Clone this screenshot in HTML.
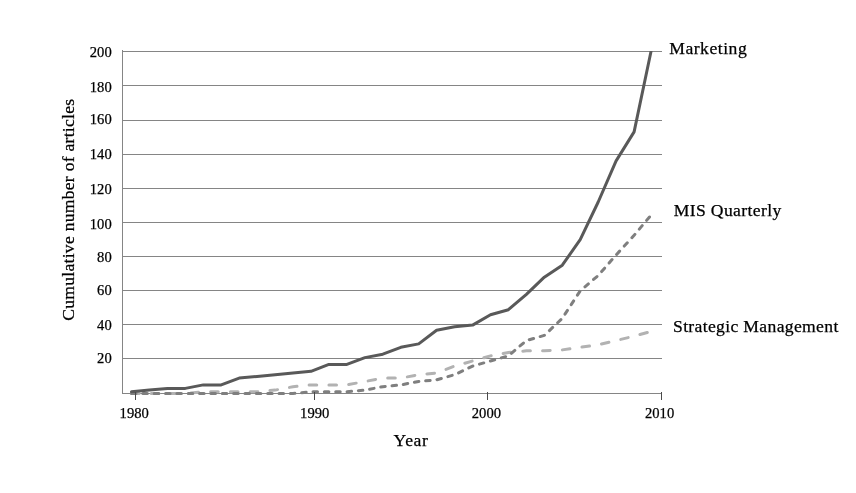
<!DOCTYPE html>
<html><head><meta charset="utf-8"><title>Cumulative number of articles</title>
<style>
html,body{margin:0;padding:0;background:#fff;}
svg{display:block;font-family:"Liberation Serif",serif;}
</style></head><body>
<svg width="856" height="493" viewBox="0 0 856 493">
<rect width="856" height="493" fill="#fff"/>
<g stroke="#858585" stroke-width="1" shape-rendering="crispEdges"><line x1="122" y1="51.5" x2="662" y2="51.5"/><line x1="122" y1="85.5" x2="662" y2="85.5"/><line x1="122" y1="120.5" x2="662" y2="120.5"/><line x1="122" y1="154.5" x2="662" y2="154.5"/><line x1="122" y1="188.5" x2="662" y2="188.5"/><line x1="122" y1="222.5" x2="662" y2="222.5"/><line x1="122" y1="256.5" x2="662" y2="256.5"/><line x1="122" y1="290.5" x2="662" y2="290.5"/><line x1="122" y1="324.5" x2="662" y2="324.5"/><line x1="122" y1="358.5" x2="662" y2="358.5"/>
<line x1="122.5" y1="50" x2="122.5" y2="394"/>
<line x1="122" y1="393.5" x2="662" y2="393.5"/>
</g>
<clipPath id="c"><rect x="120" y="51" width="545" height="346"/></clipPath>
<g fill="none" stroke-linejoin="round" clip-path="url(#c)">
<polyline points="131.5,393.5 149.4,393.5 167.4,393.5 185.3,393.5 203.3,391.8 221.2,391.8 239.2,391.8 257.1,391.8 275.1,390.1 293.0,386.7 311.0,384.9 328.9,384.9 346.9,384.9 364.9,381.5 382.8,378.1 400.8,378.1 418.7,374.7 436.6,373.0 454.6,366.1 472.6,361.0 490.5,355.9 508.4,352.5 526.4,350.8 544.3,350.8 562.3,349.9 580.2,347.3 598.2,344.8 616.1,340.5 634.1,336.2 652.0,331.1" stroke="#b2b2b2" stroke-width="3" stroke-dasharray="7.6 12.2" stroke-linecap="round"/>
<polyline points="131.5,393.5 149.4,393.5 167.4,393.5 185.3,393.5 203.3,393.5 221.2,393.5 239.2,393.5 257.1,393.5 275.1,393.5 293.0,393.5 311.0,391.8 328.9,391.8 346.9,391.8 364.9,390.1 382.8,386.7 400.8,384.9 418.7,381.5 436.6,379.8 454.6,374.7 472.6,366.1 490.5,361.0 508.4,355.9 526.4,340.5 544.3,335.4 562.3,318.3 580.2,290.9 598.2,275.5 616.1,255.0 634.1,235.3 652.0,214.0" stroke="#7f7f7f" stroke-width="3" stroke-dasharray="4.5 6.85" stroke-linecap="round"/>
<polyline points="131.5,391.8 149.4,390.1 167.4,388.4 185.3,388.4 203.3,384.9 221.2,384.9 239.2,378.1 257.1,376.4 275.1,374.7 293.0,373.0 311.0,371.3 328.9,364.4 346.9,364.4 364.9,357.6 382.8,354.2 400.8,347.3 418.7,343.9 436.6,330.2 454.6,326.8 472.6,325.1 490.5,314.8 508.4,309.7 526.4,294.3 544.3,277.2 562.3,265.2 580.2,239.6 598.2,202.0 616.1,160.9 634.1,131.9 651,51.5" stroke="#595959" stroke-width="3" stroke-linecap="round"/>
</g>
<g stroke="#4a4a4a" stroke-width="1" shape-rendering="crispEdges"><line x1="135.5" y1="392" x2="135.5" y2="400"/><line x1="314.5" y1="392" x2="314.5" y2="400"/><line x1="487.5" y1="392" x2="487.5" y2="400"/><line x1="661.5" y1="392" x2="661.5" y2="400"/></g>
<g font-size="14.6px" fill="#000" stroke="#000" stroke-width="0.25"><text x="111.7" y="57.0" text-anchor="end">200</text><text x="111.7" y="92.0" text-anchor="end">180</text><text x="111.7" y="124.0" text-anchor="end">160</text><text x="111.7" y="159.0" text-anchor="end">140</text><text x="111.7" y="194.0" text-anchor="end">120</text><text x="111.7" y="229.0" text-anchor="end">100</text><text x="111.7" y="262.0" text-anchor="end">80</text><text x="111.7" y="295.0" text-anchor="end">60</text><text x="111.7" y="330.0" text-anchor="end">40</text><text x="111.7" y="363.0" text-anchor="end">20</text><text x="134.2" y="418" text-anchor="middle">1980</text><text x="314.7" y="418" text-anchor="middle">1990</text><text x="486.4" y="418" text-anchor="middle">2000</text><text x="659.6" y="418" text-anchor="middle">2010</text></g>
<g font-size="17.6px" fill="#000" stroke="#000" stroke-width="0.25">
<text id="t1" x="669.2" y="53.7" textLength="77.5">Marketing</text>
<text id="t2" x="673.7" y="216" textLength="107.5">MIS Quarterly</text>
<text id="t3" x="673" y="331.6" textLength="165.3">Strategic Management</text>
<text id="t4" x="393.6" y="445.7" textLength="34.3">Year</text>
<text id="t5" transform="translate(74,320.8) rotate(-90)" textLength="222">Cumulative number of articles</text>
</g>
</svg>
</body></html>
